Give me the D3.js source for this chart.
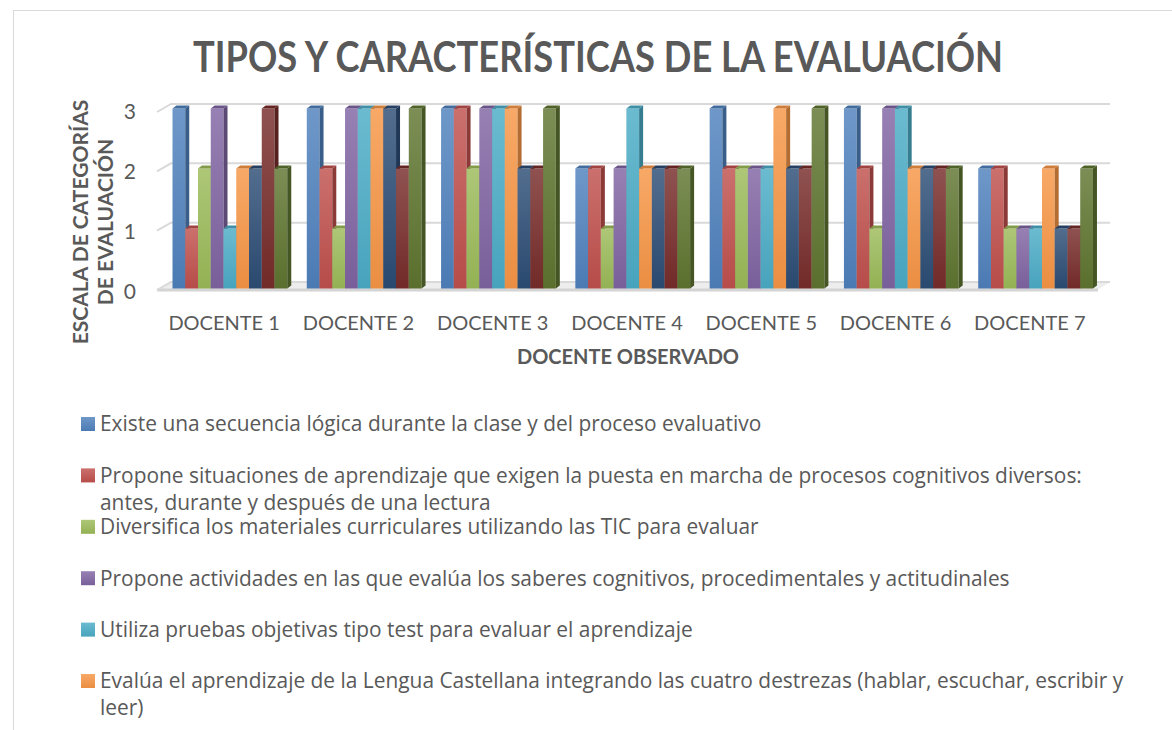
<!DOCTYPE html>
<html>
<head>
<meta charset="utf-8">
<script src="https://cdn.jsdelivr.net/npm/d3@7"></script>
<style>
  body { margin: 0; background: #fff; }
  text { font-family: Lato, "Open Sans", sans-serif; fill: #595959; }
  .legend-text { font-family: "Open Sans", Lato, sans-serif; }
</style>
</head>
<body>
<svg id="chart" width="1172" height="730"></svg>
<script>
const categories = ["DOCENTE 1","DOCENTE 2","DOCENTE 3","DOCENTE 4","DOCENTE 5","DOCENTE 6","DOCENTE 7"];

const seriesNames = [
  "Existe una secuencia lógica durante la clase y del proceso evaluativo",
  "Propone situaciones de aprendizaje que exigen la puesta en marcha de procesos cognitivos diversos: antes, durante y después de una lectura",
  "Diversifica los materiales curriculares utilizando las TIC para evaluar",
  "Propone actividades en las que evalúa los saberes cognitivos, procedimentales y actitudinales",
  "Utiliza pruebas objetivas tipo test para evaluar el aprendizaje",
  "Evalúa el aprendizaje de la Lengua Castellana integrando las cuatro destrezas (hablar, escuchar, escribir y leer)",
  "Serie 7",
  "Serie 8",
  "Serie 9"
];
const seriesColors = ["#4F81BD","#C0504D","#9BBB59","#8064A2","#4BACC6","#F79646","#2C4D75","#772C2A","#5F7530"];

// values per series, one per docente
const serie1 = [3,3,3,2,3,3,2];
const serie2 = [1,2,3,2,2,2,2];
const serie3 = [2,1,2,1,2,1,1];
const serie4 = [3,3,3,2,2,3,1];
const serie5 = [1,3,3,3,2,3,1];
const serie6 = [2,3,3,2,3,2,2];
const serie7 = [2,3,2,2,2,2,1];
const serie8 = [3,2,2,2,2,2,1];
const serie9 = [2,3,3,2,3,2,2];
const allSeries = [serie1,serie2,serie3,serie4,serie5,serie6,serie7,serie8,serie9];

const yTicks = [0,1,2,3];
const legendVisible = 6;

const svg = d3.select("#chart");

// frame
svg.append("rect")
   .attr("x",13.5).attr("y",10.5)
   .attr("width",1300).attr("height",900)
   .attr("fill","none").attr("stroke","#d9d9d9");

// title
svg.append("text")
   .attr("x",598).attr("y",72)
   .attr("text-anchor","middle")
   .attr("font-size","42px")
   .attr("font-weight","bold")
   .attr("textLength",810)
   .attr("lengthAdjust","spacingAndGlyphs")
   .text("TIPOS Y CARACTERÍSTICAS DE LA EVALUACIÓN");

// scales
const x0 = d3.scaleBand().domain(categories).range([157,1097]);
const x1 = d3.scaleBand().domain(d3.range(allSeries.length)).range([15.5, 15.5 + 9*12.75]);
const y = d3.scaleLinear().domain([0,3]).range([288.5,108.5]);
const yBack = y.copy().range([282,104]);
const wallDx = 14, wallDy = 8;
const barDx = 4, barDy = 3;

// floor
const floor = svg.append("g");
floor.append("path")
     .attr("d", `M157,290 L${157+wallDx},${282} L1110,282 L1097,290 Z`)
     .attr("fill","#ededed");
floor.append("line")
     .attr("x1",157).attr("x2",1098).attr("y1",290).attr("y2",290)
     .attr("stroke","#d4d4d4").attr("stroke-width",3);

// gridlines on the back wall
const grid = svg.append("g");
grid.selectAll("path")
    .data(yTicks)
    .enter()
    .append("path")
    .attr("d", d => `M157,${yBack(d)+wallDy} L${157+wallDx},${yBack(d)} L1110,${yBack(d)}`)
    .attr("fill","none")
    .attr("stroke","#d9d9d9")
    .attr("stroke-width",2);

// y tick labels
svg.append("g").selectAll("text")
   .data(yTicks)
   .enter()
   .append("text")
   .attr("x",136)
   .attr("y",d => y(d)+3)
   .attr("dy","0.35em")
   .attr("text-anchor","end")
   .attr("font-size","21px")
   .text(d => d);

// gradients
const defs = svg.append("defs");
seriesColors.forEach((c,i) => {
  let g = defs.append("linearGradient")
              .attr("id","grad"+i)
              .attr("x1",0).attr("y1",0).attr("x2",0).attr("y2",1);
  g.append("stop").attr("offset","0%").attr("stop-color", d3.interpolateRgb(c,"#ffffff")(0.18));
  g.append("stop").attr("offset","100%").attr("stop-color", d3.color(c).darker(0.15));
});

// bars
let bars = [];
categories.forEach((cat,ci) => {
  allSeries.forEach((s,si) => bars.push({cat:cat, s:si, v:s[ci]}));
});

const w = x1.bandwidth();
const barG = svg.append("g").selectAll("g")
                .data(bars)
                .enter()
                .append("g");

barG.append("rect")
    .attr("x", d => x0(d.cat) + x1(d.s))
    .attr("y", d => y(d.v))
    .attr("width", w)
    .attr("height", d => y(0) - y(d.v))
    .attr("fill", d => "url(#grad"+d.s+")");

barG.append("path")
    .attr("d", d => {
      let x = x0(d.cat) + x1(d.s) + w, t = y(d.v), b = y(0);
      return `M${x},${t} L${x+barDx},${t-barDy} L${x+barDx},${b-barDy} L${x},${b} Z`;
    })
    .attr("fill", d => d3.color(seriesColors[d.s]).darker(0.9));

barG.append("path")
    .attr("d", d => {
      let x = x0(d.cat) + x1(d.s), t = y(d.v);
      return `M${x},${t} L${x+barDx},${t-barDy} L${x+w+barDx},${t-barDy} L${x+w},${t} Z`;
    })
    .attr("fill", d => d3.color(seriesColors[d.s]).darker(0.5));

// category labels
svg.append("g").selectAll("text")
   .data(categories)
   .enter()
   .append("text")
   .attr("x", d => x0(d) + x0.bandwidth()/2)
   .attr("y", 330)
   .attr("text-anchor","middle")
   .attr("font-size","20px")
   .text(d => d);

// axis titles
svg.append("text")
   .attr("x",628).attr("y",364)
   .attr("text-anchor","middle")
   .attr("font-size","20px")
   .attr("font-weight","bold")
   .text("DOCENTE OBSERVADO");

const yTitle = svg.append("g").attr("transform","translate(88,222) rotate(-90)");
yTitle.append("text")
      .attr("text-anchor","middle")
      .attr("font-size","21px")
      .attr("font-weight","bold")
      .text("ESCALA DE CATEGORÍAS");
yTitle.append("text")
      .attr("y",25)
      .attr("text-anchor","middle")
      .attr("font-size","21px")
      .attr("font-weight","bold")
      .text("DE EVALUACIÓN");

// legend
const legend = svg.append("g");
const maxW = 1045;
let ly = 424;
seriesNames.slice(0,legendVisible).forEach((name,i) => {
  legend.append("rect")
        .attr("x",81).attr("y",ly-7)
        .attr("width",14).attr("height",14)
        .attr("fill","url(#grad"+i+")");
  let t = legend.append("text")
                .attr("class","legend-text")
                .attr("x",100).attr("y",ly)
                .attr("dy","0.35em")
                .attr("font-size","20.9px");
  let words = name.split(" ");
  let line = [];
  let tspan = t.append("tspan").attr("x",100);
  words.forEach(wd => {
    line.push(wd);
    tspan.text(line.join(" "));
    if (tspan.node().getComputedTextLength() > maxW && line.length > 1) {
      line.pop();
      tspan.text(line.join(" "));
      line = [wd];
      tspan = t.append("tspan").attr("x",100).attr("dy","27px").text(wd);
    }
  });
  ly += 51.4;
});
</script>
</body>
</html>
